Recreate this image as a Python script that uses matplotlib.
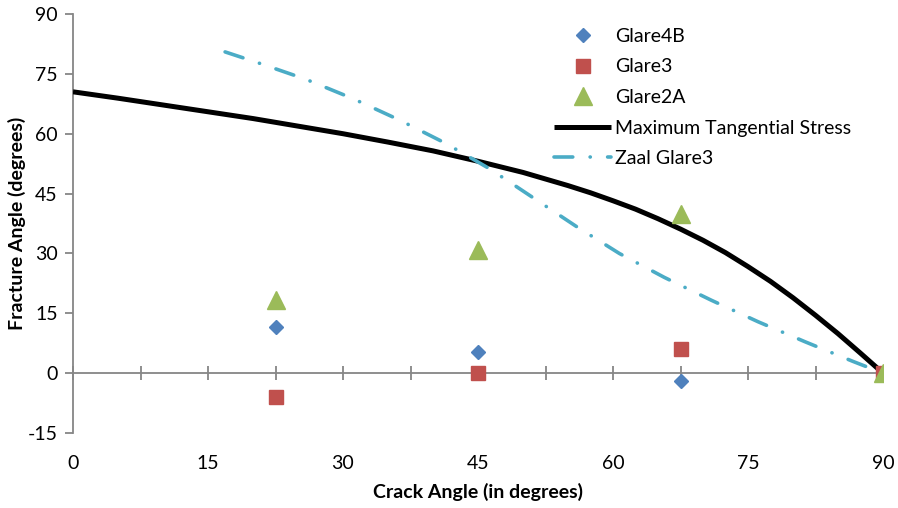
import matplotlib.pyplot as plt
from matplotlib.ticker import MultipleLocator

plt.rcParams['font.family'] = ['Lato', 'DejaVu Sans']
plt.rcParams['axes.unicode_minus'] = False

# ------------------------------
# data
# ------------------------------
crack = [22.5, 45, 67.5, 90]
glare4b = [11.5, 5.2, -2.0, 0.0]
glare3 = [-6.0, 0.0, 6.0, 0.0]
glare2a = [18.4, 30.9, 39.9, 0.0]

# Maximum tangential stress curve
mts_x = [0, 5, 10, 15, 20, 25, 30, 35, 40, 45, 50, 55, 57.5, 60, 62.5, 65,
         67.5, 70, 72.5, 75, 77.5, 80, 82.5, 85, 87.5, 90]
mts_y = [70.5, 68.9, 67.2, 65.5, 63.8, 61.9, 60.0, 57.9, 55.7, 53.1, 50.3,
         47.0, 45.2, 43.2, 41.1, 38.7, 36.1, 33.3, 30.2, 26.7, 23.0, 18.9,
         14.5, 9.9, 5.0, 0.0]

# Zaal Glare3 curve
zaal_x = [16.9, 20.4, 25.8, 31.1, 36.3, 41.4, 46.3, 51.1, 55.9, 60.7, 65.7,
          70.9, 76.1, 81.3, 86.6, 90]
zaal_y = [80.5, 77.9, 73.7, 68.8, 63.4, 57.6, 51.2, 44.0, 36.8, 30.0, 24.0,
          18.3, 12.9, 7.9, 3.0, 0.0]

x_labels = ['0', '', '15', '', '30', '', '45', '', '60', '', '75', '', '90']

# ------------------------------
# plot
# ------------------------------
fs = 14
fig = plt.figure(figsize=(8.98, 5.08), dpi=100)
ax = fig.add_axes([73 / 898, 75 / 508, 810 / 898, 419 / 508])

ax.plot(mts_x, mts_y, color='black', lw=3.6, solid_capstyle='butt',
        solid_joinstyle='round', label='Maximum Tangential Stress', zorder=3)
ax.plot(zaal_x, zaal_y, color='#4BACC6', lw=2.6,
        linestyle=(0, (5.2, 4.8, 0.05, 4.8)), dash_capstyle='round',
        label='Zaal Glare3', zorder=3)

ax.plot(crack, glare4b, 'D', color='#4F81BD', ms=7.5, ls='none', label='Glare4B', zorder=4)
ax.plot(crack, glare3, 's', color='#C0504D', ms=9.5, ls='none', label='Glare3', zorder=4)
ax.plot(crack, glare2a, '^', color='#9BBB59', ms=13, ls='none', label='Glare2A', zorder=5)

ax.set_xlim(0, 90)
ax.set_ylim(-15, 90)

# axes look (Excel-like)
gray = '#868686'
for s in ['top', 'right']:
    ax.spines[s].set_visible(False)
ax.spines['left'].set_color(gray)
ax.spines['left'].set_linewidth(1.3)
ax.spines['bottom'].set_position(('data', 0))
ax.spines['bottom'].set_color(gray)
ax.spines['bottom'].set_linewidth(1.3)

ax.set_xticks([i * 7.5 for i in range(13)])
ax.set_xticklabels(x_labels)
ax.yaxis.set_major_locator(MultipleLocator(15))

ax.tick_params(axis='x', direction='inout', length=10, width=1.3, color=gray,
               pad=54, labelsize=fs)
ax.tick_params(axis='y', direction='out', length=6, width=1.3, color=gray,
               pad=5, labelsize=fs)

ax.set_xlabel('Crack Angle (in degrees)', fontsize=fs, fontweight='bold')
ax.xaxis.set_label_coords(0.5, -0.118)
ax.set_ylabel('Fracture Angle (degrees)', fontsize=fs, fontweight='bold')
ax.yaxis.set_label_coords(-0.058, 0.5)

handles, labels = ax.get_legend_handles_labels()
order = [2, 3, 4, 0, 1]
ax.legend([handles[i] for i in order], [labels[i] for i in order],
          loc='upper left', bbox_to_anchor=(0.58, 0.995), frameon=False,
          fontsize=fs, handlelength=2.9, handletextpad=0.2,
          labelspacing=0.7, borderpad=0.1)

fig.savefig('out.png', dpi=100)
